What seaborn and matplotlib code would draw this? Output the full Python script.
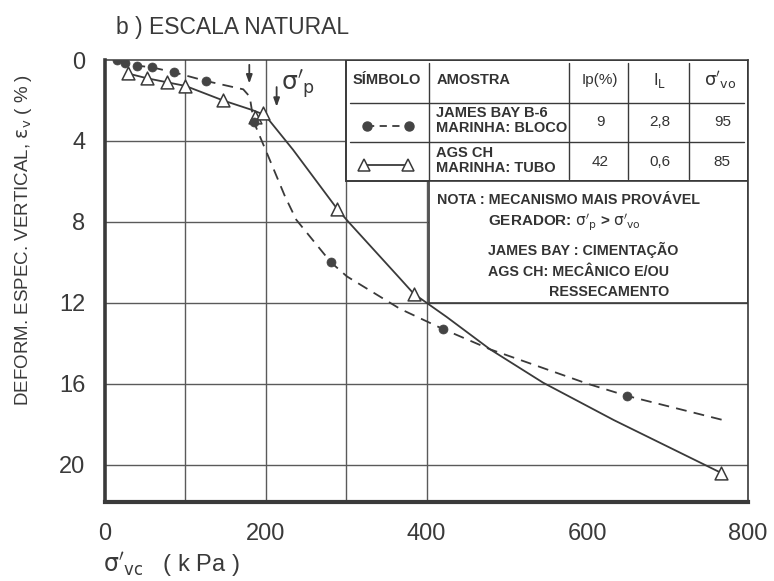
import matplotlib
matplotlib.use("Agg")
import matplotlib.pyplot as plt
from matplotlib.patches import Rectangle
import seaborn as sns
import pandas as pd

# James Bay B-6 (marinha, bloco): measured points and the drawn curve
jb_x = [15, 25, 40, 58, 86, 126, 185, 281, 420, 649]
jb_y = [0.0, 0.13, 0.28, 0.36, 0.61, 1.04, 3.05, 10.0, 13.29, 16.6]
jb_curve_x = [15, 25, 40, 58, 86, 126, 172, 180, 185, 205, 224, 238, 281, 301, 367, 420, 479, 600, 649, 771]
jb_curve_y = [0.0, 0.13, 0.28, 0.36, 0.61, 1.04, 1.45, 1.81, 3.05, 4.94, 6.75, 7.9, 10.0, 10.7, 12.3, 13.29, 14.3, 16.0, 16.6, 17.82]

# AGS CH (marinha, tubo): measured points and the drawn curve
ags_x = [28, 52, 77, 100, 147, 186, 197, 289, 384, 766]
ags_y = [0.66, 0.9, 1.1, 1.28, 2.0, 2.8, 2.62, 7.37, 11.55, 20.4]
ags_curve_x = [28, 52, 77, 100, 147, 183, 199, 234, 289, 303.5, 367, 384, 400, 425, 479, 545, 633, 766]
ags_curve_y = [0.66, 0.9, 1.1, 1.28, 2.0, 2.47, 2.72, 4.44, 7.37, 8.03, 10.8, 11.55, 12.0, 12.7, 14.3, 15.95, 17.8, 20.4]

# preconsolidation arrows (sigma'_p)
arrow_x = [179.5, 213.5]
arrow_top = [0.1, 1.2]
arrow_bottom = [1.3, 2.45]

x_ticks = [0, 100, 200, 300, 400, 500, 600, 700, 800]
x_ticklabels = ["0", "", "200", "", "400", "", "600", "", "800"]
y_ticks = [0, 4, 8, 12, 16, 20]

SIG_P = r"$\mathrm{\sigma'_{p}}$"
SIG_VO = r"$\mathrm{\sigma'_{vo}}$"
SIG_VC = r"$\mathrm{\sigma'_{vc}}$"

table_header = ["SÍMBOLO", "AMOSTRA", "Ip(%)", r"I$_\mathrm{L}$", SIG_VO]
samples = [["JAMES BAY B-6", "MARINHA: BLOCO"], ["AGS CH", "MARINHA: TUBO"]]
ip_values = ["9", "42"]
il_values = ["2,8", "0,6"]
svo_values = ["95", "85"]

sns.set_style("white")
plt.rcParams["font.family"] = ["Liberation Sans", "DejaVu Sans"]
plt.rcParams["mathtext.fontset"] = "dejavusans"

ink = "#3a3a3a"
grid_c = "#5a5a5a"

fig = plt.figure(figsize=(7.74, 5.81), dpi=100)
ax = fig.add_axes([0.1357, 0.136, 0.8307, 0.7607])
ax.set_xlim(0, 800)
ax.set_ylim(21.85, 0)

# grid
for gx in [100, 200, 300, 400]:
    ax.axvline(gx, color=grid_c, lw=1.0, zorder=1)
for gy in [4, 8, 12, 16, 20]:
    ax.axhline(gy, color=grid_c, lw=1.0, zorder=1)

# table and note boxes
ax.add_patch(Rectangle((300, 0), 500, 6.0, facecolor="white", edgecolor=ink, lw=1.4, zorder=2))
ax.add_patch(Rectangle((403, 6.0), 397, 6.0, facecolor="white", edgecolor=ink, lw=1.2, zorder=2))
for cx in [403, 577, 651, 727]:
    ax.plot([cx, cx], [0.15, 5.95 if cx == 403 else 5.9], color=ink, lw=1.0, zorder=3)
for ry in [2.12, 4.05]:
    ax.plot([305, 795], [ry, ry], color=ink, lw=1.0, zorder=3)

# curves
curves = pd.DataFrame({
    "x": jb_curve_x + ags_curve_x,
    "y": jb_curve_y + ags_curve_y,
    "amostra": ["JB"] * len(jb_curve_x) + ["AGS"] * len(ags_curve_x),
})
sns.lineplot(data=curves[curves.amostra == "JB"], x="x", y="y", sort=False,
             color=ink, lw=1.3, ax=ax, zorder=4, estimator=None)
ax.lines[-1].set_dashes([6, 4])
sns.lineplot(data=curves[curves.amostra == "AGS"], x="x", y="y", sort=False,
             color=ink, lw=1.3, ax=ax, zorder=4, estimator=None)

sns.scatterplot(x=jb_x, y=jb_y, marker="o", s=42, color="#444444", edgecolor="#444444",
                linewidth=0.5, ax=ax, zorder=6)
sns.scatterplot(x=ags_x, y=ags_y, marker="^", s=85, facecolor="white", edgecolor=ink,
                linewidth=1.1, ax=ax, zorder=5)

# arrows marking sigma'_p
for ax_x, y0, y1 in zip(arrow_x, arrow_top, arrow_bottom):
    ax.annotate("", xy=(ax_x, y1), xytext=(ax_x, y0),
                arrowprops=dict(arrowstyle="-|>,head_length=0.5,head_width=0.18",
                                color=ink, lw=1.3), zorder=6)
ax.text(219, 1.2, SIG_P, fontsize=18, color=ink, ha="left", va="center")

# table content
tkw = dict(fontsize=10.5, fontweight="bold", color="#333333", va="center", zorder=7)
hy = 0.99
ax.text(351, hy, table_header[0], ha="center", **tkw)
ax.text(412, hy, table_header[1], ha="left", **tkw)
ax.text(616, hy, table_header[2], ha="center", **dict(tkw, fontweight="normal", fontsize=11))
ax.text(690, hy, table_header[3], ha="center", **dict(tkw, fontweight="normal", fontsize=12))
ax.text(765, hy, table_header[4], ha="center", **dict(tkw, fontweight="normal", fontsize=13))

row_line1 = [2.62, 4.6]
row_line2 = [3.38, 5.36]
row_mid = [3.06, 5.04]
for i in range(2):
    ax.text(412, row_line1[i], samples[i][0], ha="left", **tkw)
    ax.text(412, row_line2[i], samples[i][1], ha="left", **tkw)
    ax.text(616, row_mid[i], ip_values[i], ha="center", **dict(tkw, fontweight="normal", fontsize=11))
    ax.text(690, row_mid[i], il_values[i], ha="center", **dict(tkw, fontweight="normal", fontsize=11))
    ax.text(768, row_mid[i], svo_values[i], ha="center", **dict(tkw, fontweight="normal", fontsize=11))

# legend symbols
ax.plot([326, 378], [3.24, 3.24], color=ink, lw=1.3, dashes=[4, 3], zorder=7)
ax.plot([326, 378], [3.24, 3.24], ls="none", marker="o", ms=6.5, color="#444444", zorder=8)
ax.plot([322, 377], [5.2, 5.2], color=ink, lw=1.3, zorder=7)
ax.plot([322, 377], [5.2, 5.2], ls="none", marker="^", ms=9, mfc="white", mec=ink, mew=1.1, zorder=8)

# note
nkw = dict(tkw, fontsize=10.3)
ax.text(413, 6.9, "NOTA : MECANISMO MAIS PROVÁVEL", ha="left", **nkw)
ax.text(476, 8.05, "GERADOR: " + SIG_P + " > " + SIG_VO, ha="left", **dict(nkw, fontsize=11))
ax.text(476, 9.4, "JAMES BAY : CIMENTAÇÃO", ha="left", **nkw)
ax.text(476, 10.47, "AGS CH: MECÂNICO E/OU", ha="left", **nkw)
ax.text(552, 11.46, "RESSECAMENTO", ha="left", **nkw)

# axes styling
ax.set_xticks(x_ticks)
ax.set_xticklabels(x_ticklabels)
ax.set_yticks(y_ticks)
ax.tick_params(axis="both", direction="out", length=11, width=1.1, color=ink,
               labelsize=17, labelcolor="#3a3a3a", pad=3)
ax.tick_params(axis="x", pad=4)
ax.set_xlabel("")
ax.set_ylabel("")
for side, lw in [("left", 2.6), ("bottom", 3.0), ("top", 1.1), ("right", 1.2)]:
    ax.spines[side].set_visible(True)
    ax.spines[side].set_linewidth(lw)
    ax.spines[side].set_color(ink)

fig.text(0.15, 0.952, "b ) ESCALA NATURAL", fontsize=16.5, color="#3a3a3a", ha="left", va="center")
fig.text(0.03, 0.587, r"DEFORM. ESPEC. VERTICAL, $\mathrm{\epsilon_v}$ ( % )", rotation=90,
         fontsize=13.5, color="#3a3a3a", ha="center", va="center")
fig.text(0.133, 0.028, SIG_VC + "   ( k Pa )", fontsize=17, color="#3a3a3a",
         ha="left", va="center")

fig.savefig("out.png", dpi=100, facecolor="white")
